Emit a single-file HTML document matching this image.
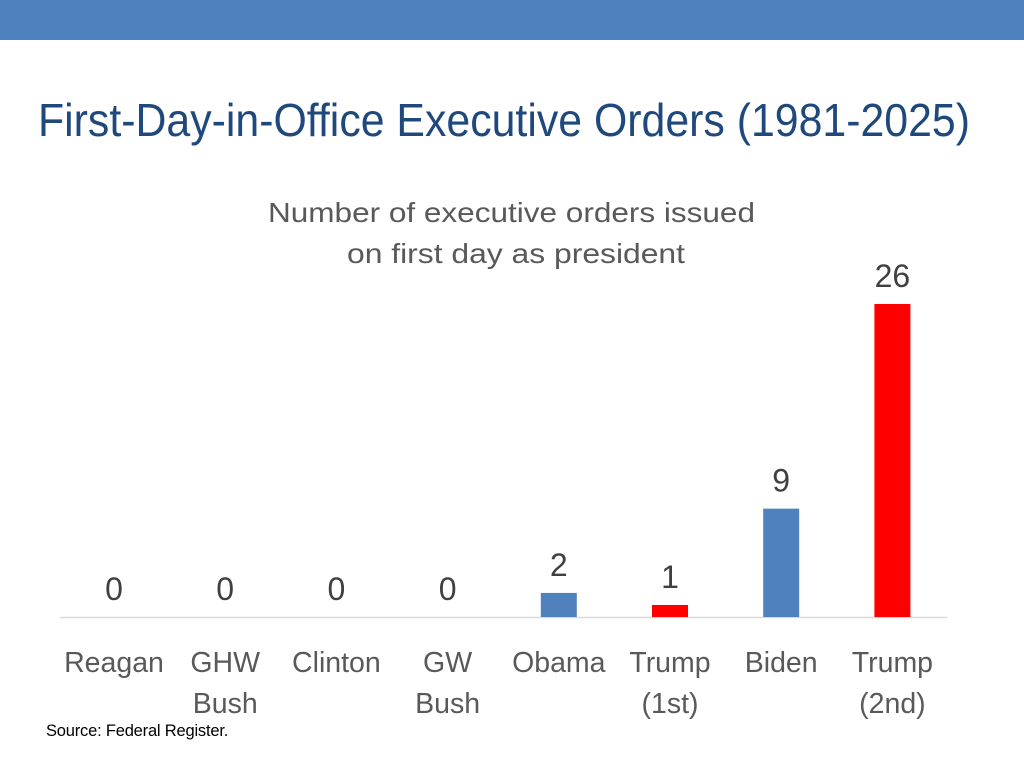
<!DOCTYPE html>
<html><head><meta charset="utf-8"><style>
body{margin:0;width:1024px;height:768px;background:#fff;overflow:hidden;font-family:"Liberation Sans",sans-serif;position:relative}
#bar{position:absolute;left:0;top:0;width:1024px;height:40px;background:#4f81bd}
#src{position:absolute;left:46px;top:722px;font-size:16.5px;color:#000;letter-spacing:-0.2px}
svg{position:absolute;left:0;top:0}
</style></head><body>
<div id="bar"></div>
<svg id="chart" width="1024" height="768">
<text x="38" y="136" font-size="46" fill="#1f497d" textLength="932" lengthAdjust="spacingAndGlyphs">First-Day-in-Office Executive Orders (1981-2025)</text>
<text x="268" y="222" font-size="28" fill="#595959" textLength="487" lengthAdjust="spacingAndGlyphs">Number of  executive orders issued</text>
<text x="347" y="263" font-size="28" fill="#595959" textLength="338" lengthAdjust="spacingAndGlyphs">on  first day as president</text>
<line x1="60" y1="617.5" x2="947" y2="617.5" stroke="#d9d9d9" stroke-width="1.5"/>
</svg>
<div id="src">Source: Federal Register.</div>
<script>
const categories=[["Reagan"],["GHW","Bush"],["Clinton"],["GW","Bush"],["Obama"],["Trump","(1st)"],["Biden"],["Trump","(2nd)"]];
const values=[0,0,0,0,2,1,9,26];
const colors=["#4f81bd","#4f81bd","#4f81bd","#4f81bd","#4f81bd","#ff0000","#4f81bd","#ff0000"];
const svg=document.getElementById('chart');
const NS="http://www.w3.org/2000/svg";
const baseY=617, pxPer=12.04, x0=114, step=111.2, bw=36;
const xs=i=>x0+i*step, ys=v=>baseY-v*pxPer;
values.forEach((v,i)=>{
  const cx=xs(i);
  if(v>0){
    const r=document.createElementNS(NS,'rect');
    r.setAttribute('x',cx-bw/2);r.setAttribute('y',ys(v));r.setAttribute('width',bw);r.setAttribute('height',baseY-ys(v));r.setAttribute('fill',colors[i]);
    
    
    svg.appendChild(r);
  }
  const t=document.createElementNS(NS,'text');
  t.setAttribute('x',cx);t.setAttribute('y',ys(v)-17);t.setAttribute('text-anchor','middle');t.setAttribute('font-size','32');t.setAttribute('fill','#404040');
  t.textContent=v;
  
  
  svg.appendChild(t);
  categories[i].forEach((line,j)=>{
    const c=document.createElementNS(NS,'text');
    c.setAttribute('x',cx);c.setAttribute('y',672+j*41);c.setAttribute('text-anchor','middle');c.setAttribute('font-size','28.5');c.setAttribute('fill','#595959');
    c.textContent=line;
    
    
    svg.appendChild(c);
  });
});
</script>
</body></html>
